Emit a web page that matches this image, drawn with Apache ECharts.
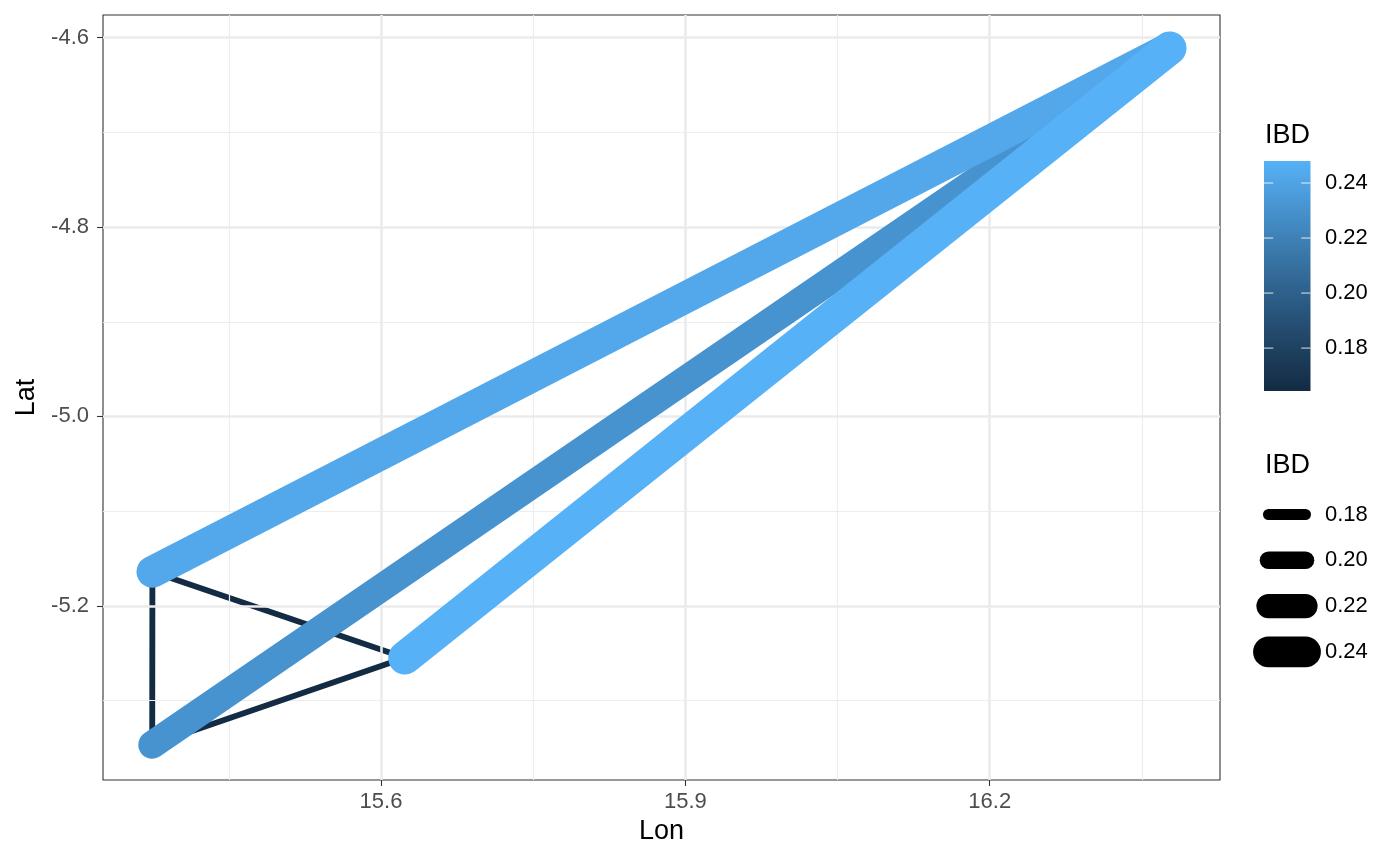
<!DOCTYPE html>
<html>
<head>
<meta charset="utf-8">
<script src="https://cdn.jsdelivr.net/npm/echarts@6/dist/echarts.min.js"></script>
<style>
html,body{margin:0;padding:0;background:#fff;}
#chart{width:1400px;height:865px;}
</style>
</head>
<body>
<div id="chart"></div>
<script>
// ---- data ----
const siteNames = ['A', 'B', 'C', 'D'];
const siteLon = [15.3747, 15.3745, 15.6236, 16.3775];
const siteLat = [-5.1641, -5.3468, -5.2549, -4.6110];
const edgeFrom = ['A', 'A', 'B', 'B', 'A', 'C'];
const edgeTo   = ['B', 'C', 'C', 'D', 'D', 'D'];
const edgeIBD  = [0.1644, 0.1646, 0.1645, 0.2310, 0.2430, 0.2480];
const lonTicks = [15.6, 15.9, 16.2];
const lonMinor = [15.45, 15.75, 16.05, 16.35];
const latTicks = [-4.6, -4.8, -5.0, -5.2];
const latMinor = [-4.7, -4.9, -5.1, -5.3];
const colorBreaks = [0.18, 0.20, 0.22, 0.24];
const sizeBreaks = [0.18, 0.20, 0.22, 0.24];
const ibdMin = 0.1644, ibdMax = 0.2480;
const lonRange = [15.326, 16.427];
const latRange = [-5.384, -4.576];

// ---- colour (Lab interpolation like ggplot) ----
function hexToRgb(h){h=h.replace('#','');return [0,2,4].map(i=>parseInt(h.substr(i,2),16));}
function s2l(c){c/=255;return c<=0.04045?c/12.92:Math.pow((c+0.055)/1.055,2.4);}
function l2s(c){const v=c<=0.0031308?12.92*c:1.055*Math.pow(c,1/2.4)-0.055;return Math.round(Math.max(0,Math.min(1,v))*255);}
const Xn=0.95047,Yn=1,Zn=1.08883;
function rgbToLab(rgb){const [r,g,b]=rgb.map(s2l);
  const X=(0.4124564*r+0.3575761*g+0.1804375*b)/Xn,Y=(0.2126729*r+0.7151522*g+0.0721750*b)/Yn,Z=(0.0193339*r+0.1191920*g+0.9503041*b)/Zn;
  const f=t=>t>0.008856?Math.cbrt(t):7.787*t+16/116;
  const fx=f(X),fy=f(Y),fz=f(Z);return [116*fy-16,500*(fx-fy),200*(fy-fz)];}
function labToRgb(lab){const fy=(lab[0]+16)/116,fx=fy+lab[1]/500,fz=fy-lab[2]/200;
  const fi=t=>{const t3=t*t*t;return t3>0.008856?t3:(t-16/116)/7.787;};
  const X=fi(fx)*Xn,Y=fi(fy)*Yn,Z=fi(fz)*Zn;
  const r=3.2404542*X-1.5371385*Y-0.4985314*Z,g=-0.9692660*X+1.8760108*Y+0.0415560*Z,b=0.0556434*X-0.2040259*Y+1.0572252*Z;
  return 'rgb('+l2s(r)+','+l2s(g)+','+l2s(b)+')';}
const labLow=rgbToLab(hexToRgb('#132B43')), labHigh=rgbToLab(hexToRgb('#56B1F7'));
function colorAtT(t){t=Math.max(0,Math.min(1,t));return labToRgb(labLow.map((v,i)=>v+(labHigh[i]-v)*t));}
function colorOf(v){return colorAtT((v-ibdMin)/(ibdMax-ibdMin));}
function widthOf(v){return 11+(v-0.18)*330;}

// ---- build ----
const FONT='"Liberation Sans", Arial, Helvetica, sans-serif';
const gridLeft=103, gridTop=15, gridRight=1220, gridBottom=780;

const series=[];
const gridLines=[];
lonMinor.forEach(v=>gridLines.push({xAxis:v,lineStyle:{color:'#EDEDED',width:1.2,type:'solid'}}));
latMinor.forEach(v=>gridLines.push({yAxis:v,lineStyle:{color:'#EDEDED',width:1.2,type:'solid'}}));
lonTicks.forEach(v=>gridLines.push({xAxis:v,lineStyle:{color:'#EBEBEB',width:2.6,type:'solid'}}));
latTicks.forEach(v=>gridLines.push({yAxis:v,lineStyle:{color:'#EBEBEB',width:2.6,type:'solid'}}));
series.push({type:'line',data:[],silent:true,z:1,animation:false,
  markLine:{silent:true,symbol:['none','none'],label:{show:false},animation:false,data:gridLines}});

edgeFrom.forEach((f,i)=>{
  const a=siteNames.indexOf(f), b=siteNames.indexOf(edgeTo[i]);
  const v=edgeIBD[i];
  series.push({type:'line',name:f+'-'+edgeTo[i],data:[[siteLon[a],siteLat[a]],[siteLon[b],siteLat[b]]],
    symbol:'none',silent:true,animation:false,z:3+i,clip:false,
    lineStyle:{color:colorOf(v),width:widthOf(v),cap:'round',join:'round'}});
});

// legends via graphic
const graphics=[];
const cbX=1264, cbY=161, cbW=46.5, cbH=230;
const stops=[];
for(let i=0;i<=40;i++){stops.push({offset:i/40,color:colorAtT(i/40)});}
graphics.push({type:'text',left:1265,top:122,style:{text:'IBD',font:'27px '+FONT,fill:'#000'}});
graphics.push({type:'rect',shape:{x:cbX,y:cbY,width:cbW,height:cbH},
  style:{fill:new echarts.graphic.LinearGradient(0,1,0,0,stops)}});
colorBreaks.forEach(v=>{
  const y=cbY+cbH-(v-ibdMin)/(ibdMax-ibdMin)*cbH;
  const tl=cbW/5;
  graphics.push({type:'line',shape:{x1:cbX,y1:y,x2:cbX+tl,y2:y},style:{stroke:'rgba(255,255,255,0.85)',lineWidth:1}});
  graphics.push({type:'line',shape:{x1:cbX+cbW-tl,y1:y,x2:cbX+cbW,y2:y},style:{stroke:'rgba(255,255,255,0.85)',lineWidth:1}});
  graphics.push({type:'text',x:1325,y:y,style:{text:v.toFixed(2),font:'22px '+FONT,fill:'#000',textVerticalAlign:'middle',verticalAlign:'middle'}});
});
graphics.push({type:'text',left:1265,top:452,style:{text:'IBD',font:'27px '+FONT,fill:'#000'}});
sizeBreaks.forEach((v,i)=>{
  const y=514.5+i*45.8;
  graphics.push({type:'line',shape:{x1:1268.5,y1:y,x2:1305.5,y2:y},style:{stroke:'#000',lineWidth:widthOf(v),lineCap:'round'}});
  graphics.push({type:'text',x:1325,y:y,style:{text:v.toFixed(2),font:'22px '+FONT,fill:'#000',textVerticalAlign:'middle',verticalAlign:'middle'}});
});

const chart=echarts.init(document.getElementById('chart'),null,{renderer:'canvas'});
chart.setOption({
  animation:false,
  backgroundColor:'#fff',
  grid:{left:gridLeft,top:gridTop,width:gridRight-gridLeft,height:gridBottom-gridTop,show:true,
    borderColor:'#333333',borderWidth:1.1,backgroundColor:'#fff',containLabel:false},
  xAxis:{type:'value',min:lonRange[0],max:lonRange[1],
    name:'Lon',nameLocation:'middle',nameGap:38,
    nameTextStyle:{fontFamily:FONT,fontSize:27,color:'#000'},
    axisLine:{show:false},
    axisTick:{show:true,length:6,lineStyle:{color:'#333333',width:1.1},customValues:lonTicks},
    axisLabel:{show:true,margin:11,fontFamily:FONT,fontSize:22,color:'#4D4D4D',customValues:lonTicks,formatter:v=>Number(v).toFixed(1)},
    splitLine:{show:false}},
  yAxis:{type:'value',min:latRange[0],max:latRange[1],
    name:'Lat',nameLocation:'middle',nameGap:62,
    nameTextStyle:{fontFamily:FONT,fontSize:27,color:'#000'},
    axisLine:{show:false},
    axisTick:{show:true,length:6,lineStyle:{color:'#333333',width:1.1},customValues:latTicks},
    axisLabel:{show:true,margin:14,fontFamily:FONT,fontSize:22,color:'#4D4D4D',customValues:latTicks,formatter:v=>Number(v).toFixed(1)},
    splitLine:{show:false}},
  series:series,
  graphic:graphics
});
</script>
</body>
</html>
